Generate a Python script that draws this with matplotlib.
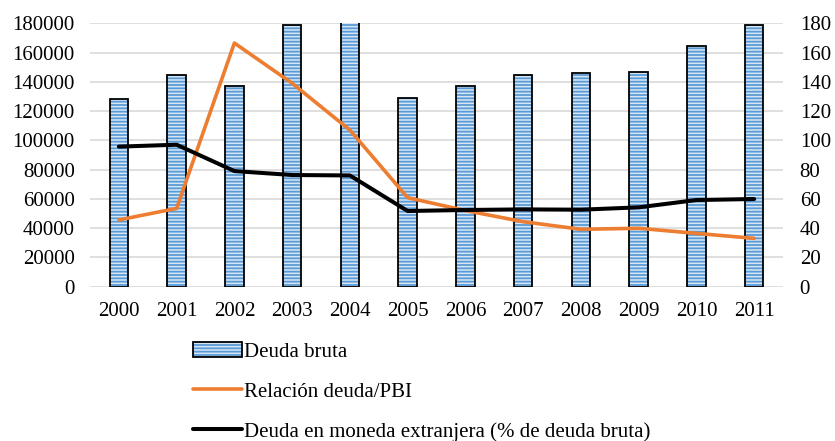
import numpy as np
import matplotlib.pyplot as plt
from matplotlib.legend_handler import HandlerTuple

plt.rcParams['font.family'] = ['Liberation Serif', 'DejaVu Serif']
plt.rcParams['hatch.linewidth'] = 1.3

years = ['2000', '2001', '2002', '2003', '2004', '2005',
         '2006', '2007', '2008', '2009', '2010', '2011']
deuda_bruta = [128000, 144600, 137400, 178800, 186000, 128700,
               136900, 144600, 146200, 146900, 164700, 178800]
relacion_pbi = [45.6, 53.5, 166.5, 139, 107, 60.8, 52, 44.4, 39.2, 39.9, 36.4, 33]
moneda_ext = [95.7, 97.0, 79.0, 76.3, 76.0, 51.7, 52.4, 52.8, 52.6, 54.2, 59.2, 59.9]

fig = plt.figure(figsize=(8.35, 4.41), dpi=100)
ax = fig.add_axes([0.1078, 0.35, 0.83, 0.5972])
ax2 = ax.twinx()

x = np.arange(len(years))
w = 0.32
fill = ax.bar(x, deuda_bruta, width=w, color='#d6e6f5', edgecolor='#5b9bd5',
              hatch='-----', linewidth=0, zorder=2)
edge = ax.bar(x, deuda_bruta, width=w, fill=False, edgecolor='black',
              linewidth=1.3, zorder=3)

ax.set_ylim(0, 180000)
ax.set_yticks(np.arange(0, 180001, 20000))
ax.set_xlim(-0.5, len(years) - 0.5)
ax.set_xticks(x)
ax.set_xticklabels(years)
ax.yaxis.grid(True, color='#d9d9d9', linewidth=1.2, zorder=0)
ax.set_axisbelow(True)

l1, = ax2.plot(x, relacion_pbi, color='#ed7d31', linewidth=2.6,
               solid_capstyle='round', solid_joinstyle='round', zorder=4)
l2, = ax2.plot(x, moneda_ext, color='black', linewidth=2.9,
               solid_capstyle='round', solid_joinstyle='round', zorder=5)
ax2.set_ylim(0, 180)
ax2.set_yticks(np.arange(0, 181, 20))

for a in (ax, ax2):
    for s in a.spines.values():
        s.set_visible(False)
    a.tick_params(length=0, labelsize=15)
ax.tick_params(axis='y', pad=11)
ax.tick_params(axis='x', pad=11)
ax2.tick_params(axis='y', pad=12)

fig.legend([(fill, edge), l1, l2],
           ['Deuda bruta', 'Relación deuda/PBI',
            'Deuda en moneda extranjera (% de deuda bruta)'],
           handler_map={tuple: HandlerTuple(ndivide=1, pad=0)},
           loc='upper left', bbox_to_anchor=(193 / 835, 1 - 342 / 441),
           frameon=False, fontsize=15, borderpad=0, borderaxespad=0,
           handlelength=2.35, handletextpad=0.1, labelspacing=0.98)

fig.savefig('out.png', dpi=100)
